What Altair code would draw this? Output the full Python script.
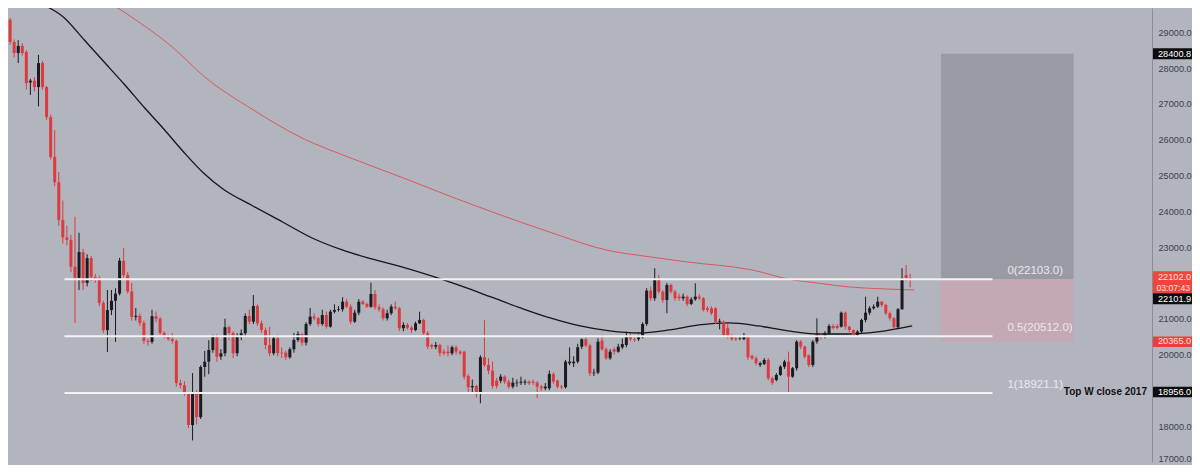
import altair as alt
import pandas as pd

# ---------------- data ----------------
opens = [
    29250, 29350, 28730, 28420, 28620, 28450, 27600, 27650, 27470, 28140,
    27470, 26630, 25520, 24810, 23760, 23270, 23200, 22450, 22140, 22860,
    22000, 22690, 22160, 22120, 21440, 20680, 21240, 21500, 21700, 22620,
    22220, 21760, 21050, 21080, 20880, 20380, 20350, 21070, 21000, 20600,
    20500, 20430, 20380, 19200, 19140, 18920, 18030, 18920, 18250, 19650,
    19800, 20127, 20518, 19940, 20035, 20761, 20600, 20035, 20518, 20593,
    21076, 20917, 21356, 20872, 20685, 20266, 20035, 20454, 20051, 20051,
    19923, 20146, 20406, 20573, 20331, 20853, 21057, 21012, 20853, 21104,
    20778, 21196, 21244, 21263, 21476, 21336, 20917, 21168, 21476, 21412,
    21336, 21691, 21320, 21263, 21012, 21152, 21336, 21291, 20733, 20825,
    20750, 20685, 20872, 20965, 20593, 20266, 20219, 20266, 20079, 20079,
    20035, 20202, 20079, 20079, 19401, 19085, 19121, 18898, 19923, 19708,
    19549, 19269, 19269, 19381, 19241, 19102, 19196, 19213, 19213, 19241,
    19241, 19213, 19102, 19057, 19057, 19457, 19269, 19102, 19085, 19755,
    19755, 19800, 20219, 20426, 20250, 19476, 19493, 20386, 20146, 19895,
    20146, 20079, 20202, 20266, 20518, 20426, 20426, 20482, 20853, 21783,
    21571, 22082, 21755, 21523, 21942, 21755, 21616, 21571, 21616, 21412,
    21543, 21616, 21571, 21291, 21291, 21291, 20917, 20917, 20733, 20518,
    20454, 20440, 20426, 20482, 19960, 19895, 19708, 19736, 19848, 19336,
    19289, 19429, 19660, 19800, 19381, 19615, 20358, 20219, 19980, 19708,
    20358, 20546, 20500, 20593, 20797, 20797, 20778, 21168, 20778, 20685,
    20546, 20639, 20965, 21168, 21291, 21336, 21476, 21384, 21152, 21012,
    20761, 21263, 22221, 22130,
]
closes = [
    29350, 28730, 28420, 28620, 28420, 27580, 27650, 27470, 28140, 27470,
    26630, 25520, 24810, 23760, 23270, 23200, 22450, 22140, 22860, 22000,
    22690, 22160, 22120, 21440, 20680, 21240, 21500, 21700, 22620, 22220,
    21760, 21050, 21080, 20880, 20380, 20350, 21070, 21000, 20600, 20500,
    20430, 20380, 19200, 19140, 18920, 18030, 18920, 18250, 19650, 19800,
    20127, 20518, 19940, 20035, 20761, 20600, 20035, 20518, 20593, 21076,
    20917, 21356, 20872, 20685, 20266, 20035, 20454, 20035, 20035, 19923,
    20146, 20406, 20573, 20331, 20853, 21057, 21012, 20853, 21104, 20778,
    21196, 21244, 21263, 21476, 21336, 20917, 21168, 21476, 21412, 21336,
    21691, 21320, 21263, 21012, 21152, 21336, 21291, 20733, 20825, 20750,
    20685, 20872, 20965, 20593, 20219, 20219, 20266, 20035, 20035, 20035,
    20202, 20079, 20035, 19381, 19085, 19121, 18898, 19923, 19708, 19549,
    19121, 19121, 19381, 19241, 19102, 19213, 19213, 19241, 19241, 19196,
    19213, 19102, 19057, 19102, 19457, 19241, 19102, 19085, 19800, 19800,
    19800, 20202, 20426, 20250, 19476, 19493, 20358, 20146, 19895, 20079,
    20079, 20219, 20294, 20480, 20426, 20406, 20482, 20853, 21783, 21571,
    22082, 21755, 21523, 21942, 21755, 21571, 21571, 21616, 21412, 21543,
    21616, 21571, 21244, 21244, 21152, 20917, 20940, 20546, 20518, 20426,
    20426, 20454, 20482, 19923, 19895, 19755, 19755, 19848, 19336, 19213,
    19429, 19660, 19800, 19381, 19615, 20358, 20219, 19940, 19708, 20358,
    20546, 20500, 20593, 20797, 20740, 20740, 21168, 20778, 20685, 20546,
    20639, 20965, 21168, 21291, 21336, 21476, 21384, 21152, 21012, 20761,
    21263, 22130, 22130, 22102,
]
highs = [
    29420, 29400, 28800, 28780, 28700, 28500, 27700, 27750, 28370, 28200,
    27500, 26700, 26270, 25100, 24300, 23600, 23340, 23850, 23400, 22950,
    22800, 22750, 22250, 22200, 21500, 21800, 21800, 21850, 22700, 22970,
    22300, 22000, 21300, 21150, 20950, 20450, 21250, 21200, 21050, 20650,
    20550, 20600, 20420, 19300, 19250, 18950, 19480, 19000, 19700, 20100,
    20400, 20550, 20560, 20150, 21000, 20800, 20650, 20600, 20700, 21150,
    21250, 21660, 21400, 20950, 20750, 20770, 20500, 20550, 20200, 20100,
    20200, 20600, 20650, 20600, 20900, 21300, 21150, 21050, 21250, 21200,
    21250, 21400, 21350, 21600, 21550, 21400, 21250, 21550, 21520, 21450,
    22007, 21800, 21400, 21320, 21250, 21400, 21476, 21330, 20900, 20880,
    20800, 20920, 21196, 21000, 20650, 20300, 20350, 20300, 20150, 20250,
    20250, 20250, 20120, 20100, 19450, 19300, 19150, 19980, 20965, 19900,
    19800, 19350, 19450, 19420, 19300, 19350, 19300, 19380, 19300, 19280,
    19300, 19260, 19150, 19200, 19550, 19500, 19300, 19150, 19850, 20200,
    19950, 20300, 20450, 20480, 20300, 19600, 20450, 20550, 20200, 20150,
    20200, 20300, 20450, 20640, 20600, 20480, 20550, 20900, 21850, 21900,
    22408, 22221, 21800, 22000, 21980, 21800, 21700, 21700, 21650, 21600,
    21990, 21680, 21600, 21350, 21340, 21320, 21000, 20950, 20850, 20560,
    20500, 20520, 20600, 20500, 20000, 19950, 19800, 19900, 19900, 19380,
    19480, 19700, 19850, 20079, 19650, 20400, 20400, 20250, 20000, 20400,
    21012, 20580, 20650, 20850, 20850, 20850, 21200, 21200, 20800, 20700,
    20680, 21000, 21616, 21350, 21400, 21616, 21500, 21420, 21200, 21050,
    21300, 22408, 22500, 22250,
]
lows = [
    29200, 28650, 28300, 28140, 28350, 27400, 27250, 27350, 26930, 27400,
    26550, 25450, 24700, 23600, 23100, 23050, 22300, 20880, 21800, 21800,
    21900, 22050, 22000, 21350, 20600, 20070, 21100, 20350, 21650, 22150,
    21700, 20950, 20950, 20800, 20300, 20250, 20300, 20900, 20550, 20450,
    20380, 20300, 19100, 19050, 18850, 17950, 17600, 18050, 18200, 19380,
    19450, 20050, 19800, 19850, 19950, 20400, 19900, 19950, 20400, 20500,
    20850, 20850, 20800, 20600, 20150, 19950, 19980, 19950, 19900, 19850,
    19880, 20050, 20350, 20250, 20250, 20800, 20950, 20780, 20800, 20720,
    20750, 21150, 21200, 21200, 21300, 20850, 20880, 21100, 21380, 21300,
    21300, 21250, 21200, 20950, 20950, 21100, 21250, 20650, 20650, 20700,
    20600, 20650, 20850, 20550, 20150, 20150, 20150, 19950, 19980, 19950,
    19980, 20000, 19980, 19300, 18950, 18900, 18800, 18638, 19650, 19450,
    19050, 19050, 19200, 19180, 19050, 19050, 19100, 19150, 19150, 19150,
    19150, 18778, 18980, 19000, 19000, 19180, 19050, 19030, 19050, 19700,
    19650, 19750, 20150, 20200, 19400, 19400, 19450, 20100, 19850, 19850,
    20000, 20050, 20150, 20200, 20380, 20350, 20380, 20450, 20800, 21500,
    21500, 21700, 21450, 21152, 21700, 21500, 21500, 21500, 21350, 21380,
    21500, 21520, 21200, 21180, 21100, 20850, 20700, 20500, 20450, 20380,
    20380, 20400, 20400, 19850, 19850, 19700, 19650, 19700, 19280, 19150,
    19250, 19400, 19600, 18917, 19350, 19550, 20150, 19880, 19650, 19650,
    20300, 20420, 20450, 20550, 20700, 20700, 20750, 20700, 20620, 20500,
    20500, 20600, 20900, 21100, 21250, 21300, 21330, 21100, 20950, 20700,
    20720, 21250, 22050, 21878,
]

# slow (black) moving average, sampled at candle numbers
ma_black_i = [4.0, 8.8, 15.4, 20.3, 25.2, 30.1, 35.0, 39.9, 44.8, 49.7, 54.5,
              61.9, 69.2, 76.5, 83.9, 91.2, 98.6, 105.9, 113.2, 120.6, 127.9,
              135.2, 142.6, 149.9, 157.2, 164.6, 171.9, 179.2, 186.6, 193.9,
              201.2, 208.6, 215.9, 224.5]
ma_black = [30450, 29902, 29399, 28785, 28170, 27556, 26914, 26299, 25657, 25070,
            24623, 24149, 23702, 23255, 22920, 22668, 22445, 22193, 21914, 21607,
            21300, 21020, 20797, 20657, 20601, 20685, 20825, 20881, 20797, 20657,
            20573, 20573, 20629, 20797]

# higher-timeframe (red) moving average
ma_red_i = [20, 25, 33, 42, 50, 62, 74, 86, 99, 111, 123, 135, 149, 160, 169,
            185, 195, 201, 209, 218, 225]
ma_red = [30100, 29902, 29344, 28590, 27752, 26830, 26048, 25490, 24931, 24400,
          23897, 23423, 22920, 22724, 22585, 22362, 22082, 21998, 21886, 21830,
          21803]

# Fibonacci retracement drawing
fib_names = ["0", "0.5", "1"]
fib_levels = [22103.0, 20512.0, 18921.1]
fib_start_i, fib_end_i, fib_label_i = 15.4, 244.3, 248

# long-position box (target / stop)
box_start_i, box_end_i = 231.6, 264.3
box_target, box_entry, box_stop = 28400.8, 22103.0, 20365.0

# price-scale labels left visible (22000 and 19000 sit under the price tags)
tick_values = [17000, 18000, 20000, 21000, 23000, 24000,
               25000, 26000, 27000, 28000, 29000]

# ---------------- styling ----------------
BG = "#b2b5be"
RED = "#dc3a3f"
BLACK = "#1b1b20"
FONT = "Liberation Sans"
FS = 9.2
W, H = 1144, 454
X_DOMAIN = [2.711, 282.42]
Y_DOMAIN = [16997, 29679]

xs = alt.Scale(domain=X_DOMAIN, nice=False, zero=False)
ys = alt.Scale(domain=Y_DOMAIN, nice=False, zero=False)
yaxis = alt.Axis(orient="right", values=tick_values, format=".1f", title=None,
                 grid=False, ticks=False, domain=True, domainColor="#8a8d96",
                 labelColor="#3c3f49", labelFontSize=FS, labelPadding=6,
                 labelFont=FONT, labelFlush=True, labelFlushOffset=2)


def X(f):
    return alt.X(f, type="quantitative", scale=xs, axis=None)


def Y(f):
    return alt.Y(f, type="quantitative", scale=ys, axis=yaxis)


n = len(opens)
df = pd.DataFrame({"i": list(range(1, n + 1)), "open": opens, "close": closes,
                   "high": highs, "low": lows})

layers = []

# long-position box
df_box = pd.DataFrame({"x0": [box_start_i, box_start_i], "x1": [box_end_i, box_end_i],
                       "y0": [box_entry, box_stop], "y1": [box_target, box_entry]})
layers.append(alt.Chart(df_box.iloc[[0]]).mark_rect(color="#989ba4").encode(
    x=X("x0"), x2="x1", y=Y("y0"), y2="y1"))
layers.append(alt.Chart(df_box.iloc[[1]]).mark_rect(color="#c4a8b3").encode(
    x=X("x0"), x2="x1", y=Y("y0"), y2="y1"))

# moving averages
df_mr = pd.DataFrame({"i": ma_red_i, "v": ma_red})
layers.append(alt.Chart(df_mr).mark_line(color="#e0474f", strokeWidth=1, opacity=0.85,
                                         clip=True, interpolate="monotone").encode(
    x=X("i"), y=Y("v")))
df_mb = pd.DataFrame({"i": ma_black_i, "v": ma_black})
layers.append(alt.Chart(df_mb).mark_line(color="#15151a", strokeWidth=1.3, clip=True,
                                         interpolate="monotone").encode(
    x=X("i"), y=Y("v")))

# candles
for cond, col in [("datum.close >= datum.open", BLACK), ("datum.close < datum.open", RED)]:
    b = alt.Chart(df).transform_filter(cond)
    layers.append(b.mark_rule(strokeWidth=1, clip=True, color=col).encode(
        x=X("i"), y=Y("low"), y2="high"))
    layers.append(b.mark_bar(size=3, clip=True, color=col).encode(
        x=X("i"), y=Y("open"), y2="close"))

# Fibonacci lines and labels
df_fib = pd.DataFrame({"v": fib_levels,
                       "t": [f"{a}({b:.1f})" for a, b in zip(fib_names, fib_levels)],
                       "x0": [fib_start_i] * 3, "x1": [fib_end_i] * 3,
                       "xl": [fib_label_i] * 3})
layers.append(alt.Chart(df_fib).mark_rule(color="#f3f3f6", strokeWidth=2).encode(
    x=X("x0"), x2="x1", y=Y("v")))
layers.append(alt.Chart(df_fib).mark_text(align="left", baseline="middle", dy=-8,
                                          fontSize=11.5, font=FONT, color="#e9e9ee").encode(
    x=X("xl"), y=Y("v"), text="t"))


def tag(value, lines, bg, top, bottom, fg="#ffffff", dys=(0,), sizes=(FS,), xs_=(6,)):
    d = pd.DataFrame({"v": [value]})
    ch = alt.Chart(d)
    out = [ch.mark_rect(color=bg, yOffset=top, y2Offset=bottom).encode(
        x=alt.value(W + 1), x2=alt.value(W + 40), y=Y("v"), y2="v")]
    for txt, dy, fs, dx in zip(lines, dys, sizes, xs_):
        out.append(ch.mark_text(align="left", baseline="middle", dy=dy, fontSize=fs,
                                font=FONT, color=fg, text=txt).encode(
            x=alt.value(W + dx), y=Y("v")))
    return out


layers += tag(28400.8, ["28400.8"], "#0d0d10", -5.5, 5.5)
layers += tag(22102.0, ["22102.0", "03:07:43"], "#f0453c", -8, 14,
              fg="#ffe2e0", dys=(-2.5, 8.5), sizes=(FS, 8.6), xs_=(6, 4.5))
layers += tag(22101.9, ["22101.9"], "#0d0d10", 14, 25, dys=(19.5,))
layers += tag(20365.0, ["20365.0"], "#e8413b", -5, 5.5, fg="#ffe2e0")
layers += tag(18956.0, ["18956.0"], "#0d0d10", -5, 5.5)

d_note = pd.DataFrame({"v": [18956.0]})
layers.append(alt.Chart(d_note).mark_text(align="right", baseline="middle", fontSize=10,
                                          fontWeight="bold", font=FONT, color="#111114",
                                          text="Top W close 2017").encode(
    x=alt.value(W - 5), y=Y("v")))

chart = alt.layer(*layers).properties(
    width=W, height=H,
    padding={"left": 0, "right": 40, "top": 0, "bottom": 3},
    autosize=alt.AutoSizeParams(type="none"),
    background=BG,
).configure_view(stroke=None)

chart.save("out.html", embed_options={"renderer": "svg", "actions": False})
